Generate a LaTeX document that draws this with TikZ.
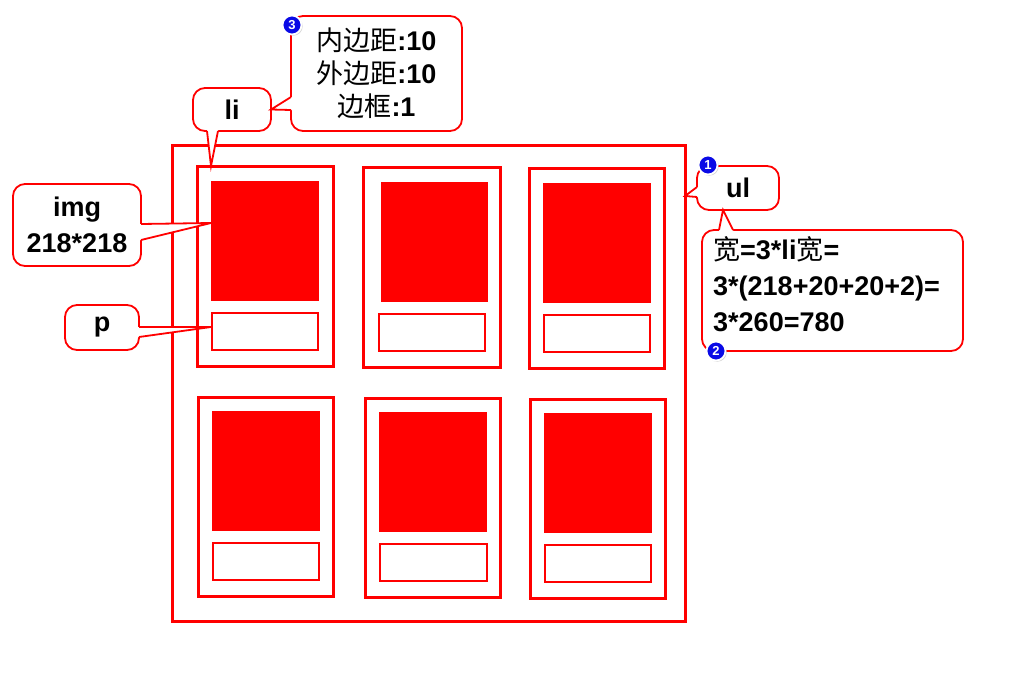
\documentclass[tikz,border=0pt]{standalone}
\usepackage{fontspec}
\setmainfont{Liberation Sans}
\newfontfamily\cjk{Noto Sans CJK SC}
\usetikzlibrary{calc,shadows}
\definecolor{ired}{RGB}{255,0,0}
\definecolor{badgeblue}{RGB}{10,10,230}
\newcommand\bx[6]{\node[#1, minimum width=#4pt-#2pt, minimum height=#5pt-#3pt] (#6) at ({(#2+#4)/2},{(#3+#5)/2}) {};}
\newcommand\calltail[4]{%
  \fill[white] ($(#1)+(#4)$) -- (#1) -- (#2) -- (#3) -- ($(#3)+(#4)$) -- cycle;
  \draw[tailline] (#1) -- (#2) -- (#3);}
\newcommand\zh[1]{{\cjk\mdseries #1}}
\tikzset{
  ulbox/.style={draw=ired, line width=3pt, inner sep=0pt, outer sep=0pt},
  libox/.style={draw=ired, line width=3pt, inner sep=0pt, outer sep=0pt},
  imgbox/.style={fill=ired, inner sep=0pt, outer sep=0pt},
  pbox/.style={draw=ired, line width=2pt, inner sep=0pt, outer sep=0pt},
  callout/.style={draw=ired, line width=1.8pt, fill=white, rounded corners=12pt,
    inner sep=0pt, outer sep=0pt, font=\fontsize{27}{33}\selectfont\bfseries},
  calltext/.style={inner sep=0pt, font=\fontsize{27}{36}\selectfont\bfseries},
  tailline/.style={draw=ired, line width=1.8pt, line join=miter},
  badge/.style={circle, fill=badgeblue, draw=white, line width=1.8pt, text=white,
    font=\fontsize{13}{13}\selectfont\bfseries, inner sep=0pt, minimum size=19pt,
    drop shadow={shadow xshift=1.2pt, shadow yshift=-1.2pt, fill=black!35}}
}
\begin{document}
\begin{tikzpicture}[x=1pt,y=-1pt]
\fill[white] (0,0) rectangle (1024,693);
\useasboundingbox (0,0) rectangle (1024,693);
% ul
\bx{ulbox}{172}{145}{685}{621}{ul}
% row 1
\bx{libox}{197}{166}{333}{366}{li1}
\bx{imgbox}{211}{181}{319}{301}{img1}
\bx{pbox}{212}{313}{318}{350}{p1}
\bx{libox}{363}{167}{500}{367}{li2}
\bx{imgbox}{381}{182}{488}{302}{img2}
\bx{pbox}{379}{314}{485}{351}{p2}
\bx{libox}{529}{168}{664}{368}{li3}
\bx{imgbox}{543}{183}{651}{303}{img3}
\bx{pbox}{544}{315}{650}{352}{p3}
% row 2
\bx{libox}{198}{397}{333}{596}{li4}
\bx{imgbox}{212}{411}{320}{531}{img4}
\bx{pbox}{213}{543}{319}{580}{p4}
\bx{libox}{365}{398}{500}{597}{li5}
\bx{imgbox}{379}{412}{487}{532}{img5}
\bx{pbox}{380}{544}{487}{581}{p5}
\bx{libox}{530}{399}{665}{598}{li6}
\bx{imgbox}{544}{413}{652}{533}{img6}
\bx{pbox}{545}{545}{651}{582}{p6}
% callouts
\node[callout, minimum width=78pt, minimum height=43pt] (licall) at (232,109.5) {li};
\node[callout, minimum width=171pt, minimum height=115pt, align=center] (bigcall) at (376.5,73.5)
  {\zh{内边距}:10\\\zh{外边距}:10\\\zh{边框}:1};
\node[callout, minimum width=128pt, minimum height=82pt, align=center,
  font=\fontsize{27}{36}\selectfont\bfseries] (imgcall) at (77,225) {img\\218*218};
\node[callout, minimum width=74pt, minimum height=45pt] (pcall) at (102,327.5) {p};
\node[callout, minimum width=82pt, minimum height=44pt] (ulcall) at (738,188) {ul};
\node[callout, minimum width=261pt, minimum height=121pt] (fcall) at (832.5,290.5) {};
\node[calltext, anchor=west, align=left] (ftext) at ($(fcall.west)+(11,-6)$)
  {\zh{宽}=3*li\zh{宽}=\\3*(218+20+20+2)=\\3*260=780};
% tails
\coordinate (t1a) at ($(licall.south west)+(14,0)$);
\coordinate (t1b) at ($(li1.north west)+(14,0)$);
\coordinate (t1c) at ($(licall.south west)+(25,0)$);
\calltail{t1a}{t1b}{t1c}{0,-3}
\coordinate (t2a) at ($(bigcall.north west)+(0,81)$);
\coordinate (t2b) at (licall.east);
\coordinate (t2c) at ($(bigcall.north west)+(0,94)$);
\calltail{t2a}{t2b}{t2c}{3,0}
\coordinate (t3a) at ($(imgcall.north east)+(0,40)$);
\coordinate (t3b) at ($(img1.north west)+(0,42)$);
\coordinate (t3c) at ($(imgcall.north east)+(0,56)$);
\calltail{t3a}{t3b}{t3c}{-3,0}
\coordinate (t4a) at ($(pcall.north east)+(0,22)$);
\coordinate (t4b) at ($(p1.north west)+(-1,14)$);
\coordinate (t4c) at ($(pcall.north east)+(0,32)$);
\calltail{t4a}{t4b}{t4c}{-3,0}
\coordinate (t5a) at ($(ulcall.north west)+(0,21)$);
\coordinate (t5b) at ($(ul.north east)+(0,51)$);
\coordinate (t5c) at ($(ulcall.north west)+(0,31)$);
\calltail{t5a}{t5b}{t5c}{3,0}
\coordinate (t6a) at ($(fcall.north west)+(17,0)$);
\coordinate (t6b) at ($(ulcall.south west)+(26,0)$);
\coordinate (t6c) at ($(fcall.north west)+(31,0)$);
\calltail{t6a}{t6b}{t6c}{0,3}
% badges
\node[badge] (b3) at (292,25) {3};
\node[badge] (b1) at (708,165) {1};
\node[badge] (b2) at (716,351) {2};
\end{tikzpicture}
\end{document}
